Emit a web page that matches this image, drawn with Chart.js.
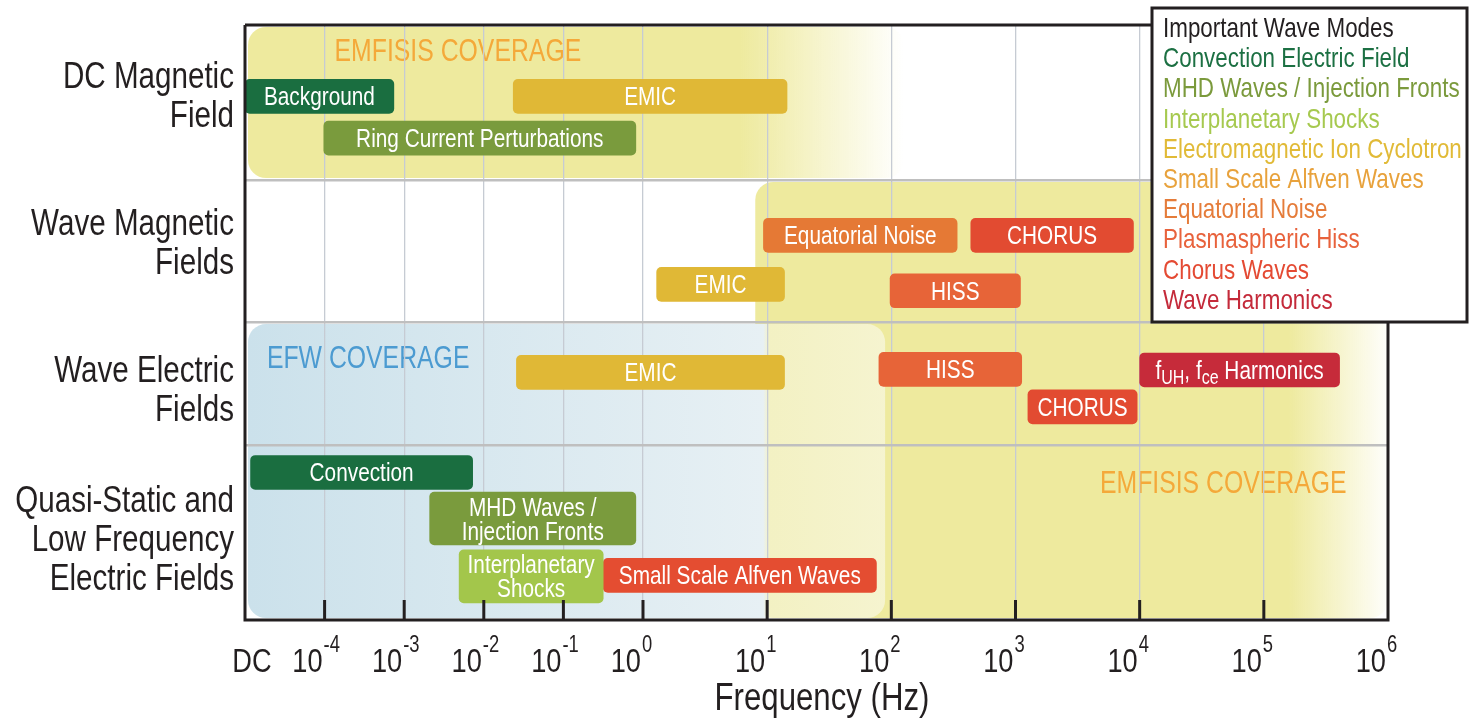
<!DOCTYPE html>
<html>
<head>
<meta charset="utf-8">
<title>Wave modes and frequency coverage</title>
<script src="https://cdn.jsdelivr.net/npm/chart.js@4.4.1/dist/chart.umd.min.js"></script>
<style>
  html, body { margin: 0; padding: 0; background: #fff; overflow: hidden; }
  #wrap { width: 1469px; height: 719px; }
</style>
</head>
<body>
<div id="wrap"><canvas id="myChart"></canvas></div>
<script>
// rows, top to bottom
var rowNames = [
    ['DC Magnetic', 'Field'],
    ['Wave Magnetic', 'Fields'],
    ['Wave Electric', 'Fields'],
    ['Quasi-Static and', 'Low Frequency', 'Electric Fields']
];
var rowLabelAt = [0.45, 1.43, 2.54, 3.53];

// x axis: DC, then decades (log10 of Hz)
var tickExps = [-5, -4, -3, -2, -1, 0, 1, 2, 3, 4, 5, 6];
var tickLabels = ['DC', '10^-4', '10^-3', '10^-2', '10^-1', '10^0', '10^1', '10^2', '10^3', '10^4', '10^5', '10^6'];

// wave modes, legend order
var modeNames = ['Convection Electric Field', 'MHD Waves / Injection Fronts', 'Interplanetary Shocks',
    'Electromagnetic Ion Cyclotron', 'Small Scale Alfven Waves', 'Equatorial Noise',
    'Plasmaspheric Hiss', 'Chorus Waves', 'Wave Harmonics'];
var modeTextColors = ['#1c7043', '#7b9a3c', '#a6c94f', '#e1ba37', '#e8a23c', '#e57c3a', '#e8623c', '#e44a33', '#c42a3a'];
var modeBarColors = ['#1a6e40', '#7a9b3d', '#a3c64b', '#e0b836', '#e44d31', '#e57935', '#e76438', '#e24b31', '#c62b3a'];

// bars: frequency range (log10 Hz, -5 = DC), lane on the row axis, mode
var barNames = ['Background', 'EMIC', 'Ring Current Perturbations',
    'Equatorial Noise', 'CHORUS', 'EMIC', 'HISS',
    'EMIC', 'HISS', 'f_{UH}, f_{ce} Harmonics', 'CHORUS',
    'Convection', 'MHD Waves /\nInjection Fronts', 'Interplanetary\nShocks', 'Small Scale Alfven Waves'];
var barFrom = [-5, -1.63, -4.01, 0.97, 2.64, 0.11, 1.99, -1.59, 1.90, 4.0, 3.10, -4.93, -2.68, -2.31, -0.5];
var barTo = [-3.13, 1.16, -0.09, 2.53, 3.95, 1.14, 3.04, 1.14, 3.05, 5.61, 3.98, -2.14, -0.09, -0.5, 1.88];
var barLane = [0.46, 0.46, 0.73, 1.39, 1.39, 1.735, 1.78, 2.41, 2.385, 2.39, 2.69, 3.157, 3.42, 3.751, 3.745];
var barMode = [0, 3, 1, 5, 7, 3, 6, 3, 6, 8, 7, 0, 1, 2, 4];

// instrument coverage
var coverNames = ['EMFISIS COVERAGE', 'EMFISIS COVERAGE', 'EFW COVERAGE'];
var coverFrom = [-5, 0.88, -5];
var coverTo = [2.1, 6, 1.95];
var coverRowFrom = [0, 1, 2];
var coverRowTo = [1, 4, 4];
var coverFade = [0.78, 5.2, 1.02];
var coverLabelX = [-3.875, 3.68, -4.725];
var coverLabelY = [0.16, 3.21, 2.285];

// scale with piecewise-linear spacing (decades below 1 Hz are drawn narrower)
var WARP = {
    x: { stops: [-5, 0, 6], fracs: [0, 0.3482, 1] },
    y: { stops: [0, 1, 2, 3, 4], fracs: [0, 0.2605, 0.4992, 0.7059, 1] }
};

class WarpScale extends Chart.LinearScale {
    warpFrac(v) {
        var s = WARP[this.id].stops, f = WARP[this.id].fracs;
        for (var i = 1; i < s.length; i++) {
            if (v <= s[i] || i === s.length - 1) {
                return f[i - 1] + (v - s[i - 1]) / (s[i] - s[i - 1]) * (f[i] - f[i - 1]);
            }
        }
    }
    getPixelForValue(v) {
        if (v === null || v === undefined || isNaN(v)) return NaN;
        return this.getPixelForDecimal(this.warpFrac(v));
    }
    getValueForPixel(p) {
        var d = this.getDecimalForPixel(p);
        var s = WARP[this.id].stops, f = WARP[this.id].fracs;
        for (var i = 1; i < f.length; i++) {
            if (d <= f[i] || i === f.length - 1) {
                return s[i - 1] + (d - f[i - 1]) / (f[i] - f[i - 1]) * (s[i] - s[i - 1]);
            }
        }
    }
}
WarpScale.id = 'warp';
WarpScale.defaults = Chart.LinearScale.defaults;
Chart.register(WarpScale);

var SQ = 0.8; // horizontal squeeze for a condensed look
var FONT = '"Liberation Sans", Arial, sans-serif';

function say(ctx, text, x, y, size, color, align) {
    ctx.save();
    ctx.font = size + 'px ' + FONT;
    var w = ctx.measureText(text).width * SQ;
    var x0 = align === 'center' ? x - w / 2 : (align === 'right' ? x - w : x);
    ctx.fillStyle = color;
    ctx.textAlign = 'left';
    ctx.textBaseline = 'alphabetic';
    ctx.translate(x0, y);
    ctx.scale(SQ, 1);
    ctx.fillText(text, 0, 0);
    ctx.restore();
    return w;
}

// text with _{subscript} parts, centred on x
function rich(ctx, text, x, y, size, color) {
    var parts = text.split(/(_\{[^}]*\})/).filter(function (t) { return t.length; });
    var segs = parts.map(function (t) {
        var sub = t.indexOf('_{') === 0;
        return { t: sub ? t.slice(2, -1) : t, sub: sub };
    });
    ctx.save();
    var total = 0;
    segs.forEach(function (s) {
        ctx.font = (s.sub ? Math.round(size * 0.78) : size) + 'px ' + FONT;
        s.w = ctx.measureText(s.t).width * SQ;
        total += s.w;
    });
    ctx.restore();
    var cx = x - total / 2;
    segs.forEach(function (s) {
        say(ctx, s.t, cx, s.sub ? y + 5 : y, s.sub ? Math.round(size * 0.78) : size, color, 'left');
        cx += s.w;
    });
}

function edgeTick(c, lo, hi) {
    var v = c && c.tick ? c.tick.value : lo;
    return v <= lo || v >= hi;
}

var coverPlugin = {
    id: 'coverage',
    beforeDraw: function (chart) {
        var ctx = chart.ctx, xs = chart.scales.x, ys = chart.scales.y;
        var looks = [
            { c: [238, 234, 158], end: 'rgba(238,234,158,0)' },
            { c: [238, 234, 158], end: 'rgba(238,234,158,0.04)' },
            { c: [203, 225, 235], end: 'rgba(250,250,238,0.62)' }
        ];
        for (var i = 0; i < coverNames.length; i++) {
            var x0 = xs.getPixelForValue(coverFrom[i]) + 3;
            var x1 = xs.getPixelForValue(coverTo[i]);
            var y0 = ys.getPixelForValue(coverRowFrom[i]) + 2;
            var y1 = ys.getPixelForValue(coverRowTo[i]) - 2;
            var fx = (xs.getPixelForValue(coverFade[i]) - x0) / (x1 - x0);
            var g = ctx.createLinearGradient(x0, 0, x1, 0);
            var c = looks[i].c;
            var solid = 'rgb(' + c.join(',') + ')';
            g.addColorStop(0, solid);
            if (i === 2) {
                g.addColorStop(fx - 0.01, 'rgb(231,240,244)');
                g.addColorStop(fx, 'rgba(248,248,232,0.5)');
            } else {
                g.addColorStop(fx, solid);
            }
            g.addColorStop(1, looks[i].end);
            ctx.save();
            ctx.fillStyle = g;
            ctx.beginPath();
            ctx.roundRect(x0, y0, x1 - x0, y1 - y0, 18);
            ctx.fill();
            ctx.restore();
        }
        for (var j = 0; j < coverNames.length; j++) {
            say(ctx, coverNames[j], xs.getPixelForValue(coverLabelX[j]),
                ys.getPixelForValue(coverLabelY[j]) + 11, 31, j === 2 ? '#4c9bd1' : '#f4a93a', 'left');
        }
    }
};

var labelPlugin = {
    id: 'barLabels',
    afterDatasetsDraw: function (chart) {
        var ctx = chart.ctx;
        chart.data.datasets.forEach(function (ds, i) {
            var p = chart.getDatasetMeta(i).data[0].getProps(['x', 'y', 'base'], true);
            var cx = (p.x + p.base) / 2;
            var lines = barNames[i].split('\n');
            var lh = 24;
            var first = p.y - (lines.length - 1) * lh / 2 + 9;
            lines.forEach(function (ln, k) {
                rich(ctx, ln, cx, first + k * lh, 26, '#ffffff');
            });
        });
    }
};

var framePlugin = {
    id: 'frame',
    afterDraw: function (chart) {
        var ctx = chart.ctx, a = chart.chartArea, xs = chart.scales.x, ys = chart.scales.y;
        var legL = 1152, legT = 8, legR = 1467, legB = 322;
        ctx.save();
        ctx.strokeStyle = '#231f20';
        ctx.lineWidth = 3;
        ctx.beginPath();
        ctx.moveTo(a.left, a.top); ctx.lineTo(legL, a.top);
        ctx.moveTo(a.left, a.top); ctx.lineTo(a.left, a.bottom);
        ctx.lineTo(a.right, a.bottom); ctx.lineTo(a.right, legB);
        ctx.stroke();
        // decade ticks inside the frame
        tickExps.forEach(function (e) {
            if (e === tickExps[0] || e === tickExps[tickExps.length - 1]) return;
            var x = xs.getPixelForValue(e);
            ctx.beginPath();
            ctx.moveTo(x, a.bottom - 20); ctx.lineTo(x, a.bottom);
            ctx.stroke();
        });
        // legend box
        ctx.fillStyle = '#ffffff';
        ctx.fillRect(legL, legT, legR - legL, legB - legT);
        ctx.strokeRect(legL, legT, legR - legL, legB - legT);
        ctx.restore();

        say(ctx, 'Important Wave Modes', legL + 11, legT + 29, 28, '#231f20', 'left');
        modeNames.forEach(function (m, i) {
            say(ctx, m, legL + 11, legT + 29 + (i + 1) * 30.2, 28, modeTextColors[i], 'left');
        });

        // tick labels
        tickLabels.forEach(function (t, i) {
            var x = xs.getPixelForValue(tickExps[i]);
            var yb = a.bottom + 52;
            if (t.indexOf('^') < 0) {
                say(ctx, t, x + 7, yb, 34, '#231f20', 'center');
            } else {
                var parts = t.split('^');
                say(ctx, parts[0], x - 2, yb, 34, '#231f20', 'right');
                say(ctx, parts[1], x - 1, yb - 20, 23, '#231f20', 'left');
            }
        });
        say(ctx, 'Frequency (Hz)', 822, a.bottom + 90, 39, '#231f20', 'center');

        // row labels
        rowNames.forEach(function (lines, r) {
            var c = ys.getPixelForValue(rowLabelAt[r]);
            var lh = 39, cap = 26;
            var first = c - ((lines.length - 1) * lh + cap) / 2 + cap;
            lines.forEach(function (ln, k) {
                say(ctx, ln, a.left - 11, first + k * lh, 37, '#231f20', 'right');
            });
        });
    }
};

var ctx = document.getElementById('myChart').getContext('2d');
var chart = new Chart(ctx, {
    type: 'bar',
    data: {
        datasets: barNames.map(function (name, i) {
            return {
                label: name.replace('\n', ' '),
                data: [{ x: [barFrom[i], barTo[i]], y: barLane[i] }],
                backgroundColor: modeBarColors[barMode[i]],
                barThickness: name.indexOf('\n') >= 0 ? 53 : 34,
                borderRadius: 5,
                borderSkipped: false,
                stack: 'all'
            };
        })
    },
    options: {
        indexAxis: 'y',
        responsive: true,
        maintainAspectRatio: false,
        animation: false,
        events: [],
        layout: { padding: { left: 245, top: 25, right: 81, bottom: 99 } },
        plugins: { legend: { display: false }, tooltip: { enabled: false } },
        scales: {
            x: {
                type: 'warp', min: -5, max: 6, stacked: false, offset: false,
                afterBuildTicks: function (s) { s.ticks = tickExps.map(function (v) { return { value: v }; }); },
                ticks: { display: false },
                border: { display: false },
                grid: {
                    drawTicks: false, lineWidth: 1.3, offset: false,
                    color: function (c) { return edgeTick(c, -5, 6) ? 'rgba(0,0,0,0)' : '#c6cbd3'; }
                }
            },
            y: {
                type: 'warp', min: 0, max: 4, reverse: true, offset: false,
                afterBuildTicks: function (s) { s.ticks = [0, 1, 2, 3, 4].map(function (v) { return { value: v }; }); },
                ticks: { display: false },
                border: { display: false },
                grid: {
                    drawTicks: false, lineWidth: 2.5, offset: false,
                    color: function (c) { return edgeTick(c, 0, 4) ? 'rgba(0,0,0,0)' : '#bfbfbf'; }
                }
            }
        }
    },
    plugins: [coverPlugin, labelPlugin, framePlugin]
});
</script>
</body>
</html>
